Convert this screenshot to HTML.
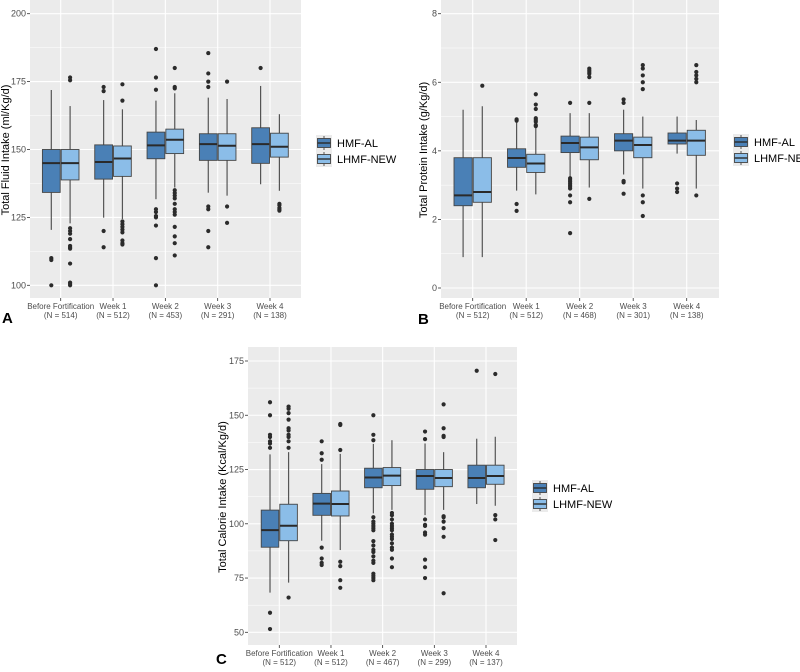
<!DOCTYPE html>
<html><head><meta charset="utf-8">
<style>
body{margin:0;background:#fff;width:800px;height:667px;overflow:hidden;font-family:"Liberation Sans",sans-serif;}
svg text{font-family:"Liberation Sans",sans-serif;}
</style></head>
<body>
<svg id="fig" width="800" height="667" viewBox="0 0 800 667" xmlns="http://www.w3.org/2000/svg"></svg>
<script>
// ---------- Data ----------
const categories = ["Before Fortification","Week 1","Week 2","Week 3","Week 4"];
const fluidN = ["(N = 514)","(N = 512)","(N = 453)","(N = 291)","(N = 138)"];
const proteinN = ["(N = 512)","(N = 512)","(N = 468)","(N = 301)","(N = 138)"];
const calorieN = ["(N = 512)","(N = 512)","(N = 467)","(N = 299)","(N = 137)"];
const seriesNames = ["HMF-AL","LHMF-NEW"];

// [lowWhisker, q1, median, q3, highWhisker]
const fluidAL = [[120.4,134.2,145,150,171.9],[124.9,139.1,145.4,151.7,168.2],[131.7,146.6,151.5,156.4,168],[134.1,146,152,155.8,169.1],[137.2,144.9,152,158,173.4]];
const fluidNEW = [[122.8,138.8,145,150,166],[124.4,140.1,146.7,151.3,164.8],[136,148.5,153.6,157.5,170.7],[133,146,151.4,155.8,168.6],[134.8,147.2,151,156,163]];
const fluidALOut = [[110,109.3,100],[173,171.5,120,114],[187,176.5,172,128,127,125.5,125,122,110,100],[185.5,178,175,173,129,128,120,114],[180]];
const fluidNEWOut = [[176.5,175.5,121,120,119,117,114.5,114,113.5,108,101,100.5,100],[174,168,123.5,122.5,121.5,120.5,119.5,116.5,115.5,115],[180,173,172.5,135,134,133,132,130,128,127,126,121.5,118,115.5,111],[175,129,123],[130,129.5,128.5,128,127.5]];

const proteinAL = [[0.9,2.4,2.7,3.8,5.2],[2.84,3.52,3.79,4.06,4.85],[3.25,3.95,4.23,4.43,5.1],[3.31,4.0,4.3,4.5,5.2],[3.92,4.2,4.3,4.52,5.0]];
const proteinNEW = [[0.9,2.5,2.8,3.8,5.3],[2.73,3.37,3.63,3.9,4.7],[2.93,3.74,4.1,4.4,5.1],[2.9,3.8,4.17,4.4,5.0],[2.9,3.87,4.3,4.6,4.9]];
const proteinALOut = [[],[4.92,4.88,2.45,2.25],[5.4,3.2,3.15,3.1,3.05,3.0,2.95,2.9,2.7,2.5,1.6],[5.5,5.4,3.12,3.08,2.75],[3.05,2.9,2.8]];
const proteinNEWOut = [[5.9],[5.65,5.35,5.22,4.95,4.9,4.85,4.75,4.72],[6.4,6.35,6.3,6.25,6.15,5.4,2.6],[6.5,6.4,6.2,6.0,5.8,2.7,2.5,2.1],[6.5,6.3,6.2,6.1,6.0,2.7]];

const calorieAL = [[68.3,89.2,97.1,106.3,132],[92.2,103.9,109.3,114,127.5],[104.8,116.6,121.3,125.6,136.8],[104,115.9,122,125,137],[109.1,116.6,121.1,127,139.2]];
const calorieNEW = [[72.9,92.2,99.1,109,133],[87.9,103.6,109.1,115.1,132.2],[106.4,117.6,122.2,125.9,138.5],[106.4,117.1,121.1,125,133],[108.3,118.2,122,127,140.1]];
const calorieALOut = [[156,150,141,140,138,137,135,59,51.5],[138,132.5,129.5,89,84,82,81],[150,141,138.5,103,101,100,99,98,97,92,90,88,87,85,83,82,77,76,75,74],[142.5,139,102,99.5,99,96,95,83.5,80,75],[170.5]];
const calorieNEWOut = [[154,153,151,148,144,143,141,140,138,135,66],[146,145.5,134,82.5,80.5,74,70.5],[105,104,102,100,99,98,97,95,94,93,91,89,88,84,80],[155,144,140.5,140,103.5,103,101,98,94,68],[169,104,102,92.5]];

const fluidTicks = [100,125,150,175,200];
const proteinTicks = [0,2,4,6,8];
const calorieTicks = [50,75,100,125,150,175];

// ---------- Drawing ----------
const NS = "http://www.w3.org/2000/svg";
const svg = document.getElementById("fig");
function mk(tag, attrs, parent){
  const e = document.createElementNS(NS, tag);
  for (const k in attrs) e.setAttribute(k, attrs[k]);
  (parent||svg).appendChild(e);
  return e;
}
const COLORS = ["#4a80b6","#8bbde8"];

function panel(cfg){
  const g = mk("g",{});
  
  
  const {x0,x1,y0,y1,tLo,tHi,pLo,pHi,cx} = cfg;
  const ys = v => pLo + (v - tLo) * (pHi - pLo) / (tHi - tLo);
  const bg = mk("rect",{x:x0,y:y0,width:x1-x0,height:y1-y0,fill:"#ebebeb"},g);
  
  
  for (let i=0;i<cfg.ticks.length-1;i++){
    const v=(cfg.ticks[i]+cfg.ticks[i+1])/2;
    mk("line",{x1:x0,x2:x1,y1:ys(v),y2:ys(v),stroke:"#fff","stroke-width":0.5},g);
  }
  const gridG = mk("g",{},g);
  
  
  cfg.ticks.forEach(t=>{
    mk("line",{x1:x0,x2:x1,y1:ys(t),y2:ys(t),stroke:"#fff","stroke-width":1.1},gridG);
    mk("line",{x1:x0-3,x2:x0,y1:ys(t),y2:ys(t),stroke:"#333","stroke-width":0.8},g);
    const tl = mk("text",{x:x0-4,y:ys(t)+3,"text-anchor":"end","font-size":9,fill:"#4d4d4d"},g);
    tl.textContent = t;
    
    
  });
  const step = (cx[4]-cx[0])/4;
  categories.forEach((c,i)=>{
    const x = cx[0] + i*step;
    mk("line",{x1:x,x2:x,y1:y0,y2:y1,stroke:"#fff","stroke-width":1.1},gridG);
    mk("line",{x1:x,x2:x,y1:y1,y2:y1+3,stroke:"#333","stroke-width":0.8},g);
    const a1 = {x:x,y:y1+11,"text-anchor":"middle","font-size":8,fill:"#4d4d4d"};
    if (c.length > 12){ a1.textLength = 67; a1.lengthAdjust = "spacingAndGlyphs"; }
    const t1 = mk("text",a1,g);
    t1.textContent = c;
    
    
    const t2 = mk("text",{x:x,y:y1+20,"text-anchor":"middle","font-size":8,fill:"#4d4d4d"},g);
    t2.textContent = cfg.nLabels[i];
    
    
  });
  const bw = step*0.34;
  [cfg.al, cfg.nw].forEach((ser, si)=>{
    const outs = si===0 ? cfg.alOut : cfg.nwOut;
    ser.forEach((s,i)=>{
      const xc = cx[0] + i*step + (si===0 ? -bw/2 - 0.5 : bw/2 + 0.5);
      const bg2 = mk("g",{},g);
      
      
      mk("line",{x1:xc,x2:xc,y1:ys(s[0]),y2:ys(s[4]),stroke:"#555","stroke-width":1.2},bg2);
      mk("rect",{x:xc-bw/2,y:ys(s[3]),width:bw,height:ys(s[1])-ys(s[3]),fill:COLORS[si],stroke:"#444","stroke-width":0.9},bg2);
      mk("line",{x1:xc-bw/2,x2:xc+bw/2,y1:ys(s[2]),y2:ys(s[2]),stroke:"#2a2a2a","stroke-width":2},bg2);
      outs[i].forEach(o=>{
        const p = mk("circle",{cx:xc,cy:ys(o),r:2.1,fill:"#2b2b2b"},bg2);
        
        
      });
    });
  });
  const yt = mk("text",{x:0,y:0,"text-anchor":"middle","font-size":11,fill:"#000",transform:`translate(${cfg.ytX},${cfg.ytY}) rotate(-90)`},g);
  yt.textContent = cfg.yTitle;
  
  
  const lg = mk("g",{},g);
  
  
  seriesNames.forEach((n,i)=>{
    const ly = cfg.legY + i*16;
    const le = mk("g",{},lg);
    
    
    mk("rect",{x:cfg.legX,y:ly,width:16,height:16,fill:"#ebebeb"},le);
    mk("line",{x1:cfg.legX+8,x2:cfg.legX+8,y1:ly+1,y2:ly+15,stroke:"#555","stroke-width":1},le);
    mk("rect",{x:cfg.legX+1.5,y:ly+3.5,width:13,height:9,fill:COLORS[i],stroke:"#444","stroke-width":0.9},le);
    mk("line",{x1:cfg.legX+1.5,x2:cfg.legX+14.5,y1:ly+8,y2:ly+8,stroke:"#2a2a2a","stroke-width":1.4},le);
    const t = mk("text",{x:cfg.legX+21,y:ly+12,"font-size":11,fill:"#000"},le);
    t.textContent = n;
  });
  const pl = mk("text",{x:cfg.lblX,y:cfg.lblY,"font-size":15,"font-weight":"bold",fill:"#000"},g);
  pl.textContent = cfg.letter;
  
  
}

panel({name:"panel-a-fluid",x0:30,x1:301,y0:0,y1:298,tLo:100,tHi:200,pLo:285.3,pHi:13.7,
  cx:[60.7,113.3,165.7,217.7,270],ticks:fluidTicks,nLabels:fluidN,al:fluidAL,nw:fluidNEW,alOut:fluidALOut,nwOut:fluidNEWOut,
  yTitle:"Total Fluid Intake (ml/Kg/d)",ytX:9,ytY:150,legX:316,legY:135,lblX:2,lblY:323,letter:"A"});
panel({name:"panel-b-protein",x0:441,x1:719,y0:0,y1:298,tLo:0,tHi:8,pLo:288,pHi:13.7,
  cx:[472.7,526.7,580,633.3,686.7],ticks:proteinTicks,nLabels:proteinN,al:proteinAL,nw:proteinNEW,alOut:proteinALOut,nwOut:proteinNEWOut,
  yTitle:"Total Protein Intake (g/Kg/d)",ytX:427,ytY:150,legX:733,legY:134,lblX:418,lblY:324,letter:"B"});
panel({name:"panel-c-calorie",x0:248,x1:517,y0:347,y1:645,tLo:50,tHi:175,pLo:632.3,pHi:361,
  cx:[279.3,331,382.7,434.3,486],ticks:calorieTicks,nLabels:calorieN,al:calorieAL,nw:calorieNEW,alOut:calorieALOut,nwOut:calorieNEWOut,
  yTitle:"Total Calorie Intake (Kcal/Kg/d)",ytX:226,ytY:497,legX:532,legY:480,lblX:216,lblY:664,letter:"C"});
</script>
</body></html>
